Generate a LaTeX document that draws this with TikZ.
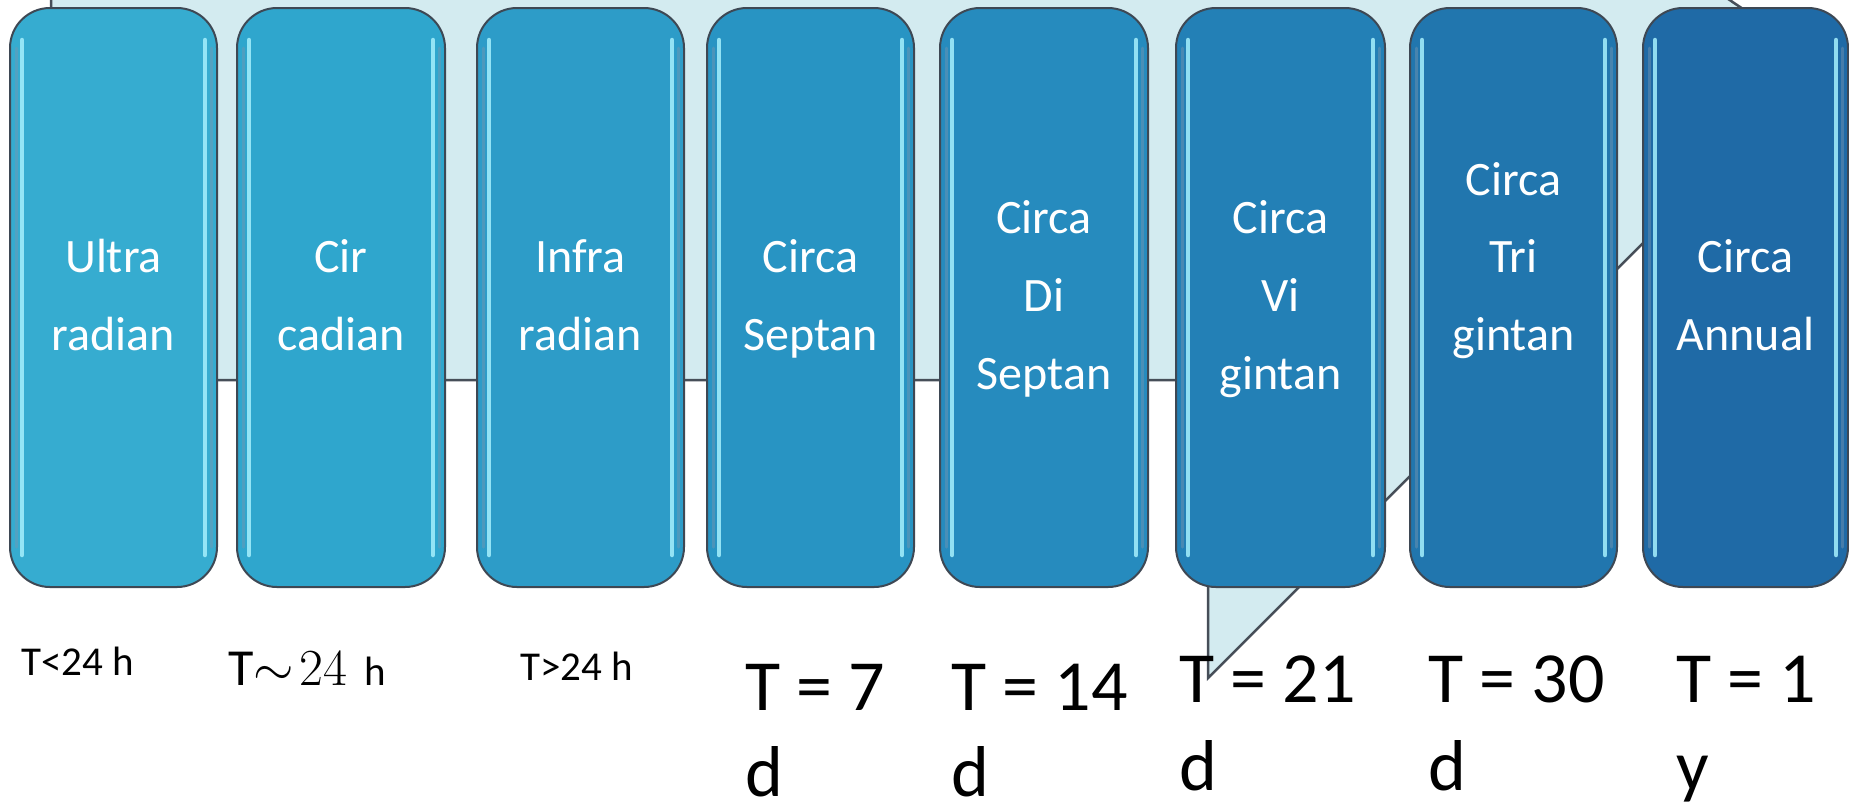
\RequirePackage{fix-cm}
\documentclass[tikz,border=0pt]{standalone}
\usepackage{fontspec}
\setmainfont{Carlito}
\definecolor{calloutfill}{RGB}{211,235,240}
\definecolor{calloutline}{RGB}{70,78,88}
\definecolor{boxline}{RGB}{62,72,84}
\definecolor{hicol}{RGB}{165,240,253}
\definecolor{bandcol}{RGB}{120,150,175}
\definecolor{c1}{RGB}{54,172,208}
\definecolor{c2}{RGB}{47,166,205}
\definecolor{c3}{RGB}{45,156,200}
\definecolor{c4}{RGB}{40,148,195}
\definecolor{c5}{RGB}{38,139,190}
\definecolor{c6}{RGB}{35,128,182}
\definecolor{c7}{RGB}{33,118,174}
\definecolor{c8}{RGB}{31,106,166}
\begin{document}
\begin{tikzpicture}[x=1pt,y=-1pt,
  boxstyle/.style={draw=boxline, line width=2pt, rounded corners=40pt, inner sep=0pt, outer sep=0pt},
  hilite/.style={draw=hicol, line width=4.5pt, line cap=round, opacity=0.85},
  band/.style={draw=bandcol, line width=3pt, line cap=round, opacity=0.45},
  boxtext/.style={text=white, font=\fontsize{48}{58}\selectfont, inner sep=0pt, anchor=base},
  smalllab/.style={font=\fontsize{41}{50}\selectfont, inner sep=0pt, anchor=base west},
  biglab/.style={font=\fontsize{72}{88}\selectfont, inner sep=0pt, anchor=base west}]
\useasboundingbox (0,0) rectangle (1849,807);
\fill[white] (0,0) rectangle (1849,807);
% background callout
\begin{scope}
\clip (0,0) rectangle (1849,807);
\draw[fill=calloutfill, draw=calloutline, line width=2.5pt, line join=miter]
  (51,-20) -- (51,380) -- (1208,380) -- (1208,678) -- (1823,63) -- (1700,-20) -- cycle;
\end{scope}
% boxes
\foreach \n/\cx/\w/\col in {1/113.5/207/c1, 2/341/208/c2, 3/580.5/207/c3, 4/810.5/207/c4,
  5/1044/208/c5, 6/1280.5/209/c6, 7/1513.5/207/c7, 8/1745.5/205/c8}{
  \node[boxstyle, fill=\col, minimum width=\w pt, minimum height=579pt] (b\n) at (\cx,297.5) {};
  \draw[band] ([xshift=6pt,yshift=-40pt]b\n.north west) -- ([xshift=6pt,yshift=40pt]b\n.south west);
  \draw[band] ([xshift=-6pt,yshift=-40pt]b\n.north east) -- ([xshift=-6pt,yshift=40pt]b\n.south east);
  \draw[hilite] ([xshift=12pt,yshift=-32pt]b\n.north west) -- ([xshift=12pt,yshift=32pt]b\n.south west);
  \draw[hilite] ([xshift=-12pt,yshift=-32pt]b\n.north east) -- ([xshift=-12pt,yshift=32pt]b\n.south east);
}
% box texts
\node[boxtext] (t1a) at (113.5,272) {Ultra};
\node[boxtext] (t1b) at (113.5,350) {radian};
\node[boxtext] (t2a) at (341,272) {Cir};
\node[boxtext] (t2b) at (341,350) {cadian};
\node[boxtext] (t3a) at (580.5,272) {Infra};
\node[boxtext] (t3b) at (580.5,350) {radian};
\node[boxtext] (t4a) at (810.5,272) {Circa};
\node[boxtext] (t4b) at (810.5,350) {Septan};
\node[boxtext] (t5a) at (1044,233) {Circa};
\node[boxtext] (t5b) at (1044,311) {Di};
\node[boxtext] (t5c) at (1044,389) {Septan};
\node[boxtext] (t6a) at (1280.5,233) {Circa};
\node[boxtext] (t6b) at (1280.5,311) {Vi};
\node[boxtext] (t6c) at (1280.5,389) {gintan};
\node[boxtext] (t7a) at (1513.5,195) {Circa};
\node[boxtext] (t7b) at (1513.5,272) {Tri};
\node[boxtext] (t7c) at (1513.5,350) {gintan};
\node[boxtext] (t8a) at (1745.5,272) {Circa};
\node[boxtext] (t8b) at (1745.5,350) {Annual};
% period labels
\node[smalllab] (l1) at (21,675) {T<24 h};
\node[inner sep=0pt, anchor=base west] (l2) at (228,685)
  {\fontsize{52}{60}\selectfont T$\mathord{\sim}\mkern2mu 24$\hspace{17pt}\fontsize{41}{50}\selectfont h};
\node[smalllab] (l3) at (520,680) {T>24 h};
\node[biglab] (l4a) at (745,710) {T = 7};
\node[biglab] (l4b) at (745,796) {d};
\node[biglab] (l5a) at (951,710) {T = 14};
\node[biglab] (l5b) at (951,796) {d};
\node[biglab] (l6a) at (1179,702) {T = 21};
\node[biglab] (l6b) at (1179,790) {d};
\node[biglab] (l7a) at (1428,702) {T = 30};
\node[biglab] (l7b) at (1428,790) {d};
\node[biglab] (l8a) at (1676,702) {T = 1};
\node[biglab] (l8b) at (1676,790) {y};
\end{tikzpicture}
\end{document}
